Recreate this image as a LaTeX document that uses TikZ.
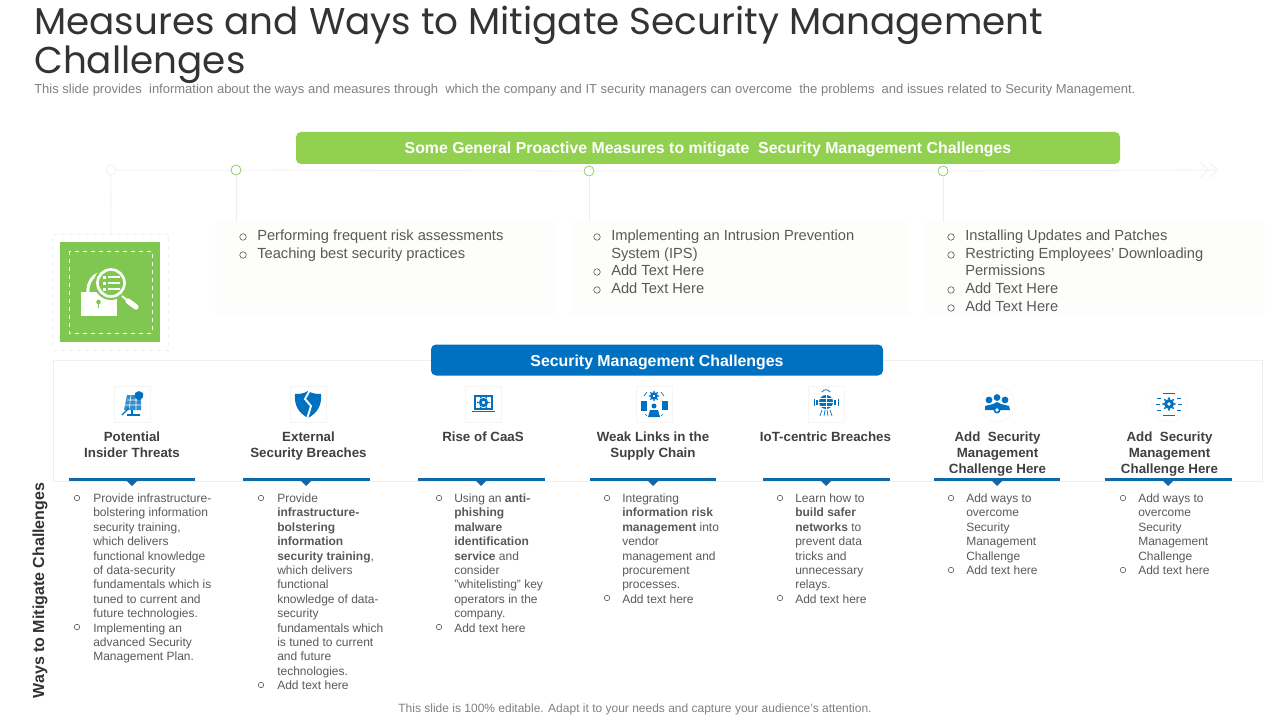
\documentclass[tikz,border=0pt]{standalone}
\usepackage{fontspec}
\setmainfont{Liberation Sans}
\newfontfamily\titlefont{Poppins}
\usepackage{tikz}
\usetikzlibrary{arrows.meta,shapes.geometric}
\newcommand{\px}{0.75pt}
\definecolor{leaf}{HTML}{92D050}
\definecolor{leafdark}{HTML}{7FC750}
\definecolor{sea}{HTML}{0070C0}
\definecolor{bar}{HTML}{1068A8}
\definecolor{ink}{HTML}{404040}
\definecolor{soft}{HTML}{595959}
\definecolor{pale}{HTML}{EFEFEF}
\definecolor{cream}{HTML}{FDFDFB}
\tikzset{
  banner/.style={rounded corners=5*\px, text=white, inner sep=0, text height=9pt, text depth=0pt, font=\fontsize{11.9}{14}\selectfont\bfseries},
  panel/.style={fill=cream, inner sep=0, minimum width=340*\px, minimum height=94*\px},
  dot/.style={circle, draw=leafdark, fill=white, inner sep=0, minimum size=10*\px, line width=0.5pt},
  head/.style={anchor=north, align=center, inner sep=0, text=ink, font=\fontsize{10}{12}\selectfont\bfseries},
  toplist/.style={anchor=north west, align=left, inner sep=0, text=soft, font=\fontsize{11}{13.25}\selectfont},
  sublist/.style={anchor=north west, align=left, inner sep=0, text=soft, font=\fontsize{9}{10.8}\selectfont},
  ring/.style={circle, draw=soft, inner sep=0, minimum size=5.5*\px, line width=0.45pt},
  bigring/.style={ring, minimum size=6.5*\px},
  iconbox/.style={draw=pale!60, fill=white, inner sep=0, minimum size=36*\px, line width=0.4pt},
}
\begin{document}
\begin{tikzpicture}[x=0.75pt, y=-0.75pt, >=stealth]
\useasboundingbox (0,0) rectangle (1280,720);

% title block
\node[anchor=north west, inner sep=0, align=left, text=ink!80!black, font=\titlefont\fontsize{28}{28}\selectfont] (title) at (34,6)
  {Measures and Ways to Mitigate Security Management\\Challenges};
\node[anchor=west, inner sep=0, text=gray, font=\fontsize{9.75}{11}\selectfont] (sub) at (34,90.5)
  {This slide provides\ \ information about the ways and measures through\ \ which the company and IT security managers can overcome\ \ the problems\ \ and issues related to Security Management.};

% panels and frame
\node[panel] (panelA) at (385,269) {};
\node[panel] (panelB) at (740,269) {};
\node[panel] (panelC) at (1095,269) {};
\draw[pale, line width=0.5pt] (53,360) rectangle (1262,481);

% timeline
\node[dot, draw=pale] (dotO) at (111,170) {};
\node[dot] (dotA) at (236,170) {};
\node[dot] (dotB) at (589,171) {};
\node[dot] (dotC) at (943,171) {};
\coordinate (tip) at (1218,170);
\node[draw=pale, dashed, inner sep=0, minimum size=116*\px] (frame) at (110.5,292) {};
\draw[pale, line width=0.6pt] (dotO) -- (dotA) -- (dotB) -- (dotC);
\draw[pale, line width=0.6pt, -{Straight Barb[length=6pt,width=11pt]Straight Barb[length=6pt,width=11pt]}] (dotC) -- (tip);
\draw[pale, line width=0.6pt] (dotO) -- (frame);
\draw[pale, line width=0.6pt] (dotA) -- (dotA |- panelA.north);
\draw[pale, line width=0.6pt] (dotB) -- (dotB |- panelB.north);
\draw[pale, line width=0.6pt] (dotC) -- (dotC |- panelC.north);

% banners
\node[banner, fill=leaf, minimum width=824*\px, minimum height=32*\px] (bannerA) at (708,148) {Some General Proactive Measures to mitigate\ \ Security Management Challenges};
\node[banner, fill=sea, minimum width=452*\px, minimum height=31*\px] (bannerB) at (657,360) {Security Management Challenges};

% green icon
\fill[leafdark] (60,242) rectangle (160,342);
\draw[white, dashed, line width=0.5pt] (69,251) rectangle (152,333);
\draw[white, line width=2.2pt] (88,294) .. controls (87,282) and (93,275) .. (101,273);
\fill[white] (81,292) rectangle (117,316);
\fill[leafdark] (98.5,302) circle (2.3);
\draw[leafdark, line width=1.2pt] (98.5,302) -- (98.5,308);
\fill[leafdark] (111,283) circle (17);
\draw[white, line width=2pt] (111,283) circle (13.5);
\foreach \yy in {277,283,289} {
  \fill[white] (103,\yy-1.5) rectangle (106,\yy+1.5);
  \fill[white] (108,\yy-1) rectangle (120,\yy+1);
}
\draw[white, line width=1.4pt] (122,296) -- (128,301);
\draw[white, line width=4pt, line cap=round] (128,301) -- (136,307);

% column icon boxes
\node[iconbox] (boxA) at (132,404) {};
\node[iconbox] (boxB) at (308,404) {};
\node[iconbox] (boxC) at (483,404) {};
\node[iconbox] (boxD) at (654,404) {};
\node[iconbox] (boxE) at (826,404) {};
\node[iconbox, circle] (boxF) at (997,404) {};
\node[iconbox, circle] (boxG) at (1169,404) {};

% threats
\fill[sea!80] (127,395) -- (141,395) -- (141,410) -- (124,410) -- cycle;
\draw[white, line width=0.4pt] (127,400) -- (141,400) (125,405) -- (141,405) (131,395) -- (129,410) (136,395) -- (136,410);
\fill[sea] (135,393) -- (139,391) -- (143,393) -- (143,397) -- (139,401) -- (135,397) -- cycle;
\draw[sea, line width=1pt] (122,415) -- (129,408);
\draw[sea, line width=0.8pt] (132,410) -- (132,414) (127,415) -- (140,415);
% shield
\fill[sea] (308,391) .. controls (313,394) and (317,394) .. (321,394) .. controls (322,406) and (317,413) .. (308,418) .. controls (299,413) and (294,406) .. (295,394) .. controls (299,394) and (303,394) .. (308,391) -- cycle;
\draw[white, line width=1.4pt] (310,390) -- (305,399) -- (311,406) -- (307,419);
% laptop
\draw[sea, line width=1pt] (475,396) rectangle (492,409);
\draw[sea, line width=1.2pt] (472,411.5) -- (495,411.5);
\draw[sea, line width=2pt] (483.5,402.5) circle (3.2);
\foreach \aa in {0,60,...,300} \fill[sea] (483.5,402.5) ++(\aa:5.6) circle (1);
% links
\draw[sea, line width=1.8pt] (654,396) circle (2.6);
\foreach \aa in {0,45,...,315} \fill[sea] (654,396) ++(\aa:4.6) circle (0.8);
\fill[sea] (641,401) rectangle (647,411);
\fill[sea] (662,401) rectangle (668,410);
\fill[sea] (654,406) circle (2.5);
\fill[sea] (648,417) -- (650,410) -- (658,410) -- (660,417) -- cycle;
\draw[sea, line width=0.5pt] (644,396) -- (647,392) (661,392) -- (664,396) (645,414) -- (647,416) (661,416) -- (663,414);
% iot
\fill[sea] (826,402) circle (7);
\draw[white, line width=0.4pt] (819,402) -- (833,402) (826,395) -- (826,409) (820,398) -- (832,398) (820,406) -- (832,406);
\draw[sea, line width=0.6pt] (822,392) .. controls (824,389) and (828,389) .. (830,392);
\fill[sea] (816,400) rectangle (818,405);
\fill[sea] (834,400) rectangle (836,405);
\draw[sea, line width=0.6pt] (814,399) -- (814,406) (838,399) -- (838,406);
\draw[sea, line width=0.5pt] (822,410) -- (820,416) (825,410) -- (824,416) (827,410) -- (828,416) (830,410) -- (832,416);
% people
\fill[sea] (997,397.5) circle (3.4);
\fill[sea] (989,400) circle (3.4);
\fill[sea] (1005,400) circle (3.4);
\fill[sea] (985,410) -- (985,406) -- (993,404) -- (997,402) -- (1001,404) -- (1009,406) -- (1010,410) -- cycle;
\draw[sea, line width=1.2pt, fill=white] (997,410) circle (2.6);
% gear arrows
\fill[sea] (1169,404) circle (5);
\foreach \aa in {0,45,...,315} \fill[sea] (1169,404) ++(\aa:5.8) circle (1.1);
\fill[white] (1169,404) circle (1.8);
\draw[sea, line width=0.5pt] (1157,398) -- (1161,398) (1156,404) -- (1160,404) (1157,410) -- (1161,410) (1177,398) -- (1181,398) (1178,404) -- (1182,404) (1177,410) -- (1181,410) (1163,393) -- (1175,393) (1163,415) -- (1175,415);

% column heads
\node[head] (headA) at (132,431.5) {Potential\\Insider Threats};
\node[head] (headB) at (308.5,431.5) {External\\Security Breaches};
\node[head] (headC) at (483,431.5) {Rise of CaaS};
\node[head] (headD) at (653,431.5) {Weak Links in the\\Supply Chain};
\node[head] (headE) at (825.5,431.5) {IoT-centric Breaches};
\node[head] (headF) at (997.5,431.5) {Add\ \ Security\\Management\\Challenge Here};
\node[head] (headG) at (1169.5,431.5) {Add\ \ Security\\Management\\Challenge Here};

% bars under heads
\foreach \xa/\xb/\xc in {69/195/132,243/370/306,418/545/481,590/716/653,763/890/826,934/1060/997,1105/1232/1168} {
  \fill[bar] (\xa,478) rectangle (\xb,481);
  \fill[bar] (\xc-5,481) -- (\xc+5,481) -- (\xc,486) -- cycle;
}

% top lists
\foreach \xx/\yy in {243/237,243/255,597/237,597/272,597/290,951/237,951/255,951/290,951/308} \node[bigring] (m\xx-\yy) at (\xx,\yy) {};
\node[toplist] (listA) at (257,229.5) {Performing frequent risk assessments\\Teaching best security practices};
\node[toplist] (listB) at (611,229.5) {Implementing an Intrusion Prevention\\System (IPS)\\Add Text Here\\Add Text Here};
\node[toplist] (listC) at (965,229.5) {Installing Updates and Patches\\Restricting Employees’ Downloading\\Permissions\\Add Text Here\\Add Text Here};

% bottom lists
\foreach \xx/\yy in {77/498,77/627,261/498,261/685,439/498,439/627,607/498,607/598,780/498,780/598,951/498,951/570,1123/498,1123/570} \node[ring] (n\xx-\yy) at (\xx,\yy) {};
\node[sublist] (subA) at (93,493.5) {Provide infrastructure-\\bolstering information\\security training,\\which delivers\\functional knowledge\\of data-security\\fundamentals which is\\tuned to  current and\\future technologies.\\Implementing an\\advanced Security\\Management Plan.};
\node[sublist] (subB) at (277,493.5) {Provide\\\textbf{infrastructure-}\\\textbf{bolstering}\\\textbf{information}\\\textbf{security training},\\which delivers\\functional\\knowledge of data-\\security\\fundamentals which\\is tuned to  current\\and future\\technologies.\\Add text here};
\node[sublist] (subC) at (454,493.5) {Using an \textbf{anti-}\\\textbf{phishing}\\\textbf{malware}\\\textbf{identification}\\\textbf{service} and\\consider\\"whitelisting" key\\operators in the\\company.\\Add text here};
\node[sublist] (subD) at (622,493.5) {Integrating\\\textbf{information risk}\\\textbf{management} into\\vendor\\management and\\procurement\\processes.\\Add text here};
\node[sublist] (subE) at (795,493.5) {Learn how to\\\textbf{build safer}\\\textbf{networks} to\\prevent data\\tricks and\\unnecessary\\relays.\\Add text here};
\node[sublist] (subF) at (966,493.5) {Add ways to\\overcome\\Security\\Management\\Challenge\\Add text here};
\node[sublist] (subG) at (1138,493.5) {Add ways to\\overcome\\Security\\Management\\Challenge\\Add text here};

% side label and footer
\node[rotate=90, inner sep=0, text=ink!80!black, font=\fontsize{12}{14}\selectfont\bfseries] (side) at (40,590.5) {Ways to Mitigate Challenges};
\node[inner sep=0, text=gray, font=\fontsize{9}{11}\selectfont] (foot) at (635,709.5) {This slide is 100\% editable. Adapt it to your needs and capture your audience's attention.};
\end{tikzpicture}
\end{document}
